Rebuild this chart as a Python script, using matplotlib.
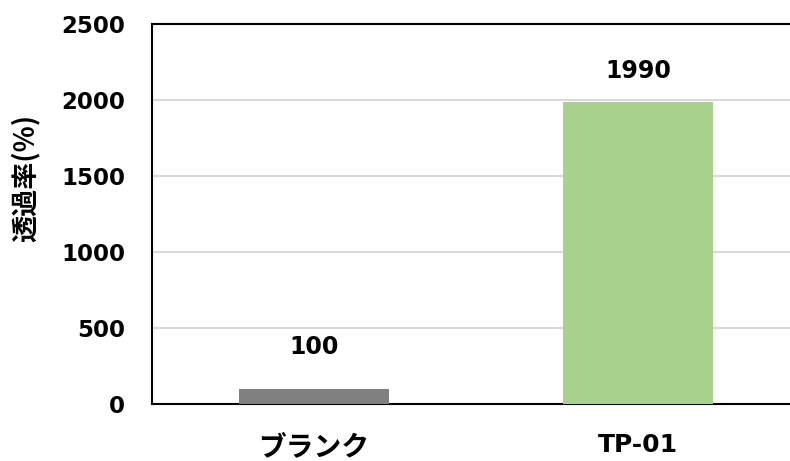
import matplotlib
matplotlib.use("Agg")
import matplotlib.pyplot as plt

categories = ["ブランク", "TP-01"]
values = [100, 1990]
bar_colors = ["#808080", "#A9D18E"]
yticks = [0, 500, 1000, 1500, 2000, 2500]
ylabel = "透過率(%)"

plt.rcParams['font.family'] = ['DejaVu Sans', 'Noto Sans CJK JP']
plt.rcParams['font.weight'] = 'bold'

fig = plt.figure(figsize=(7.9, 4.61), dpi=100)
ax = fig.add_axes([152/790, 1-404/461, (790-152)/790, (404-24)/461])

x = list(range(len(categories)))
bars = ax.bar(x, values, width=0.465, color=bar_colors, zorder=3)

ax.set_xlim(-0.5, -0.5 + 638/324)
ax.set_ylim(0, 2500)
ax.set_yticks(yticks)
ax.set_yticklabels([str(t) for t in yticks])
ax.set_xticks(x)
ax.set_xticklabels(categories)
ax.tick_params(axis='y', length=0, pad=19.5, labelsize=16.5)
ax.tick_params(axis='x', length=0, pad=21, labelsize=18)
for lab in ax.get_xticklabels() + ax.get_yticklabels():
    lab.set_fontweight('bold')
ax.get_xticklabels()[0].set_fontsize(20)

ax.yaxis.grid(True, color="#d9d9d9", linewidth=1.5, zorder=0)
ax.set_axisbelow(True)
for side in ['left', 'bottom', 'top']:
    ax.spines[side].set_color('black')
    ax.spines[side].set_linewidth(1.5)
ax.spines['right'].set_visible(False)

ax.set_ylabel(ylabel, fontsize=19.5, fontweight='bold',
              family=['Noto Sans CJK JP', 'DejaVu Sans'])
ax.yaxis.label.set_va('center')
ax.yaxis.label.set_ha('center')
ax.yaxis.set_label_coords((25-152)/638, (404-178)/380)

label_offsets = [30, 22]
for b, v, off in zip(bars, values, label_offsets):
    ax.annotate(str(v), (b.get_x() + b.get_width()/2, b.get_height()),
                xytext=(0, off), textcoords='offset points',
                ha='center', va='center', fontsize=17, fontweight='bold')

fig.savefig("out.png", dpi=100)
